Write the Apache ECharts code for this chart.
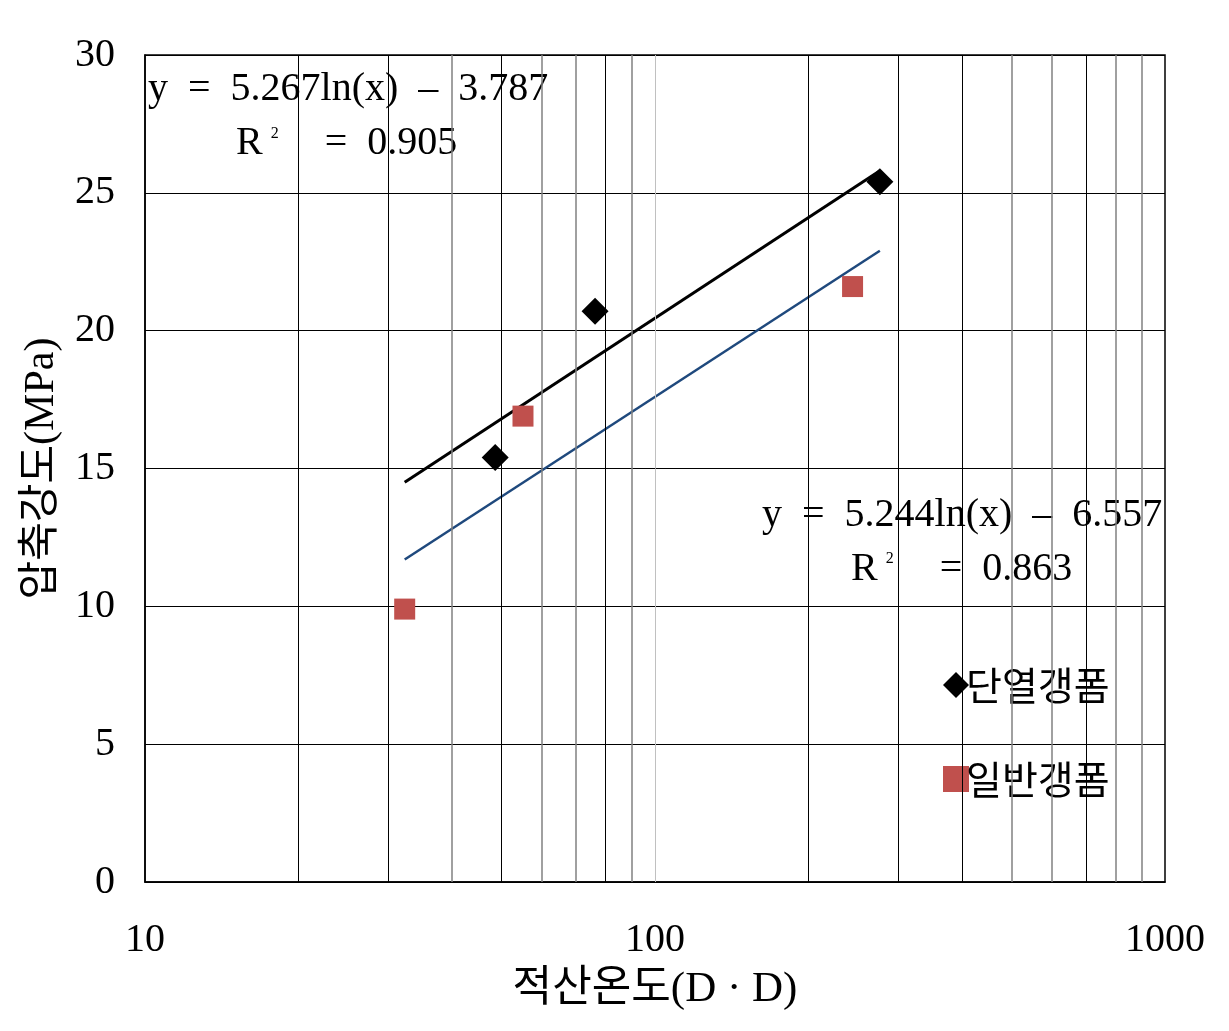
<!DOCTYPE html>
<html>
<head>
<meta charset="utf-8">
<script src="https://cdn.jsdelivr.net/npm/echarts@6/dist/echarts.min.js"></script>
<style>html,body{margin:0;padding:0;background:#fff;}#c{width:1229px;height:1031px;}</style>
</head>
<body>
<div id="c"></div>
<script>
// ---- data ----
const seriesNames = ['단열갱폼', '일반갱폼'];
const insulatedX = [48.6, 76.3, 276];
const insulatedY = [15.4, 20.7, 25.4];
const normalX = [32.3, 55.1, 244];
const normalY = [9.9, 16.9, 21.6];
const insulatedTrendX = [32.3, 276];
const insulatedTrendY = [14.5, 25.8];
const normalTrendX = [32.3, 276];
const normalTrendY = [11.7, 22.9];
const yTicks = [0, 5, 10, 15, 20, 25, 30];
const xTicks = [10, 100, 1000];
const gridDark = [20, 30, 50, 80, 200, 300, 400, 700];
const gridMid = [40, 60, 70, 90, 500, 600, 800, 900];
const gridLight = [100];
const eq1 = ['y  =  5.267ln(x)  –  3.787', '0.905'];
const eq2 = ['y  =  5.244ln(x)  –  6.557', '0.863'];
const xTitle = '적산온도(D · D)';
const yTitle = '압축강도(MPa)';

const SERIF = '"Liberation Serif","DejaVu Serif","Noto Sans CJK KR",serif';
const zip = (a, b) => a.map((v, i) => [v, b[i]]);
const vLines = (vals, color, w) => ({
  type: 'line', data: [], silent: true, z: 1,
  markLine: {
    silent: true, symbol: 'none', animation: false,
    label: { show: false },
    lineStyle: { color: color, width: w, type: 'solid' },
    data: vals.map(v => ({ xAxis: v }))
  }
});
const supRich = {
  a: { font: '40px ' + SERIF, fill: '#000' },
  s: { font: '16px ' + SERIF, fill: '#000', padding: [0, 0, 20, 8], width: 24 }
};

const chart = echarts.init(document.getElementById('c'), null, { renderer: 'canvas' });
chart.setOption({
  animation: false,
  backgroundColor: '#fff',
  grid: { left: 145, right: 64, top: 55, bottom: 149, show: true, borderColor: '#000', borderWidth: 1.5 },
  xAxis: {
    type: 'log', logBase: 10, min: xTicks[0], max: xTicks[xTicks.length - 1],
    name: xTitle, nameLocation: 'middle', nameGap: 86,
    nameTextStyle: { fontFamily: SERIF, fontSize: 43, color: '#000' },
    axisLine: { show: true, onZero: false, lineStyle: { color: '#000', width: 1.5 } },
    axisTick: { show: false },
    splitLine: { show: false },
    axisLabel: { fontFamily: SERIF, fontSize: 40, color: '#000', margin: 38, formatter: v => String(Math.round(v)) }
  },
  yAxis: {
    type: 'value', min: yTicks[0], max: yTicks[yTicks.length - 1], interval: 5,
    name: yTitle, nameLocation: 'middle', nameGap: 82, nameRotate: 90,
    nameTextStyle: { fontFamily: SERIF, fontSize: 42, color: '#000' },
    axisLine: { show: true, lineStyle: { color: '#000', width: 1.5 } },
    axisTick: { show: false },
    splitLine: { show: true, lineStyle: { color: '#000', width: 1 } },
    axisLabel: { fontFamily: SERIF, fontSize: 40, color: '#000', margin: 30 }
  },
  legend: {
    orient: 'vertical', left: 938, top: 658, itemGap: 50,
    itemWidth: 26, itemHeight: 26,
    textStyle: { fontFamily: '"Noto Sans CJK KR",serif', fontSize: 39, color: '#000', lineHeight: 44, padding: [0, 0, 0, -8] },
    data: [
      { name: seriesNames[0], icon: 'diamond' },
      { name: seriesNames[1], icon: 'rect' }
    ]
  },
  graphic: [
    { type: 'text', left: 148, top: 70, style: { text: eq1[0], font: '40px ' + SERIF, fill: '#000' } },
    { type: 'text', left: 236, top: 124, style: { text: '{a|R}{s|2}{a|   =  ' + eq1[1] + '}', rich: supRich } },
    { type: 'text', left: 762, top: 495, style: { text: eq2[0], font: '40px ' + SERIF, fill: '#000' } },
    { type: 'text', left: 851, top: 549, style: { text: '{a|R}{s|2}{a|   =  ' + eq2[1] + '}', rich: supRich } }
  ],
  series: [
    vLines(gridDark, '#000', 1),
    vLines(gridMid, '#808080', 1.5),
    vLines(gridLight, '#c0c0c0', 1),
    {
      name: 'trend1', type: 'line', data: zip(insulatedTrendX, insulatedTrendY),
      symbol: 'none', lineStyle: { color: '#000', width: 3 }, z: 3
    },
    {
      name: 'trend2', type: 'line', data: zip(normalTrendX, normalTrendY),
      symbol: 'none', lineStyle: { color: '#1F497D', width: 2.5 }, z: 3
    },
    {
      name: seriesNames[0], type: 'scatter', data: zip(insulatedX, insulatedY),
      symbol: 'diamond', symbolSize: 27, itemStyle: { color: '#000', opacity: 1 }, z: 5
    },
    {
      name: seriesNames[1], type: 'scatter', data: zip(normalX, normalY),
      symbol: 'rect', symbolSize: 21, itemStyle: { color: '#C0504D', opacity: 1 }, z: 5
    }
  ]
});
</script>
</body>
</html>
